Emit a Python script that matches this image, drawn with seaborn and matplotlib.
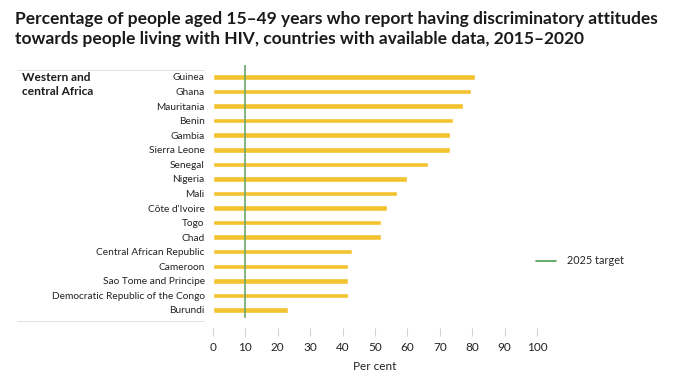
import pandas as pd
import matplotlib.pyplot as plt
from matplotlib.lines import Line2D
import seaborn as sns

# Data
countries = ['Guinea', 'Ghana', 'Mauritania', 'Benin', 'Gambia', 'Sierra Leone',
             'Senegal', 'Nigeria', 'Mali', "Côte d'Ivoire", 'Togo', 'Chad',
             'Central African Republic', 'Cameroon', 'Sao Tome and Principe',
             'Democratic Republic of the Congo', 'Burundi']
values = [80.9, 79.5, 77.1, 74.1, 73.2, 73.0, 66.4, 60.0, 56.7, 53.7, 51.9, 51.7,
          42.9, 41.8, 41.6, 41.6, 23.1]
target = 10
x_ticks = [0, 10, 20, 30, 40, 50, 60, 70, 80, 90, 100]

df = pd.DataFrame({'country': countries, 'value': values})

sns.set_style('white')
plt.rcParams['font.family'] = ['Lato', 'DejaVu Sans']

W, H = 675, 375
fig = plt.figure(figsize=(W / 100, H / 100), dpi=100)
ax = fig.add_axes([213 / W, 1 - 318 / H, (537 - 213) / W, (318 - 65) / H])

sns.barplot(data=df, x='value', y='country', color='#F2C32E', width=0.38,
            saturation=1, ax=ax)

ax.axvline(target, color='#6FA66C', lw=1.2, label='2025 target')

ax.set_xlim(0, 100)
ax.set_ylim(len(countries) - 1 + 0.55, -0.82)
ax.set_xticks(x_ticks)
ax.tick_params(axis='x', bottom=True, length=6, width=0.8, color='#d0d0d0',
               pad=4, labelsize=8.5, labelcolor='#222222')
ax.tick_params(axis='y', length=0, pad=6, labelsize=7.3, labelcolor='#222222')
for s in ax.spines.values():
    s.set_visible(False)
ax.spines['bottom'].set_position(('outward', 7))
ax.set_ylabel('')
ax.set_xlabel('Per cent', fontsize=8.5, color='#222222', labelpad=6)

# thin grey rules around the label column
for y in (70, 321):
    fig.add_artist(Line2D([17 / W, 204 / W], [1 - y / H, 1 - y / H],
                          color='#e4e4e4', lw=0.8))

fig.text(22 / W, 1 - 72 / H, 'Western and\ncentral Africa', fontsize=8.6,
         fontweight='bold', va='top', ha='left', color='#1a1a1a', linespacing=1.35)

fig.text(15 / W, 1 - 11 / H,
         'Percentage of people aged 15–49 years who report having discriminatory attitudes\n'
         'towards people living with HIV, countries with available data, 2015–2020',
         fontsize=12.5, fontweight='bold', va='top', ha='left', color='#1a1a1a',
         linespacing=1.3)

leg_handles = [Line2D([], [], color='#4E9E4E', lw=1.2)]
fig.legend(leg_handles, ['2025 target'], loc='center left',
           bbox_to_anchor=(526 / W, 1 - 261 / H), frameon=False, fontsize=7.8,
           handlelength=1.9, handletextpad=1.0)

fig.savefig('out.png', dpi=100)
